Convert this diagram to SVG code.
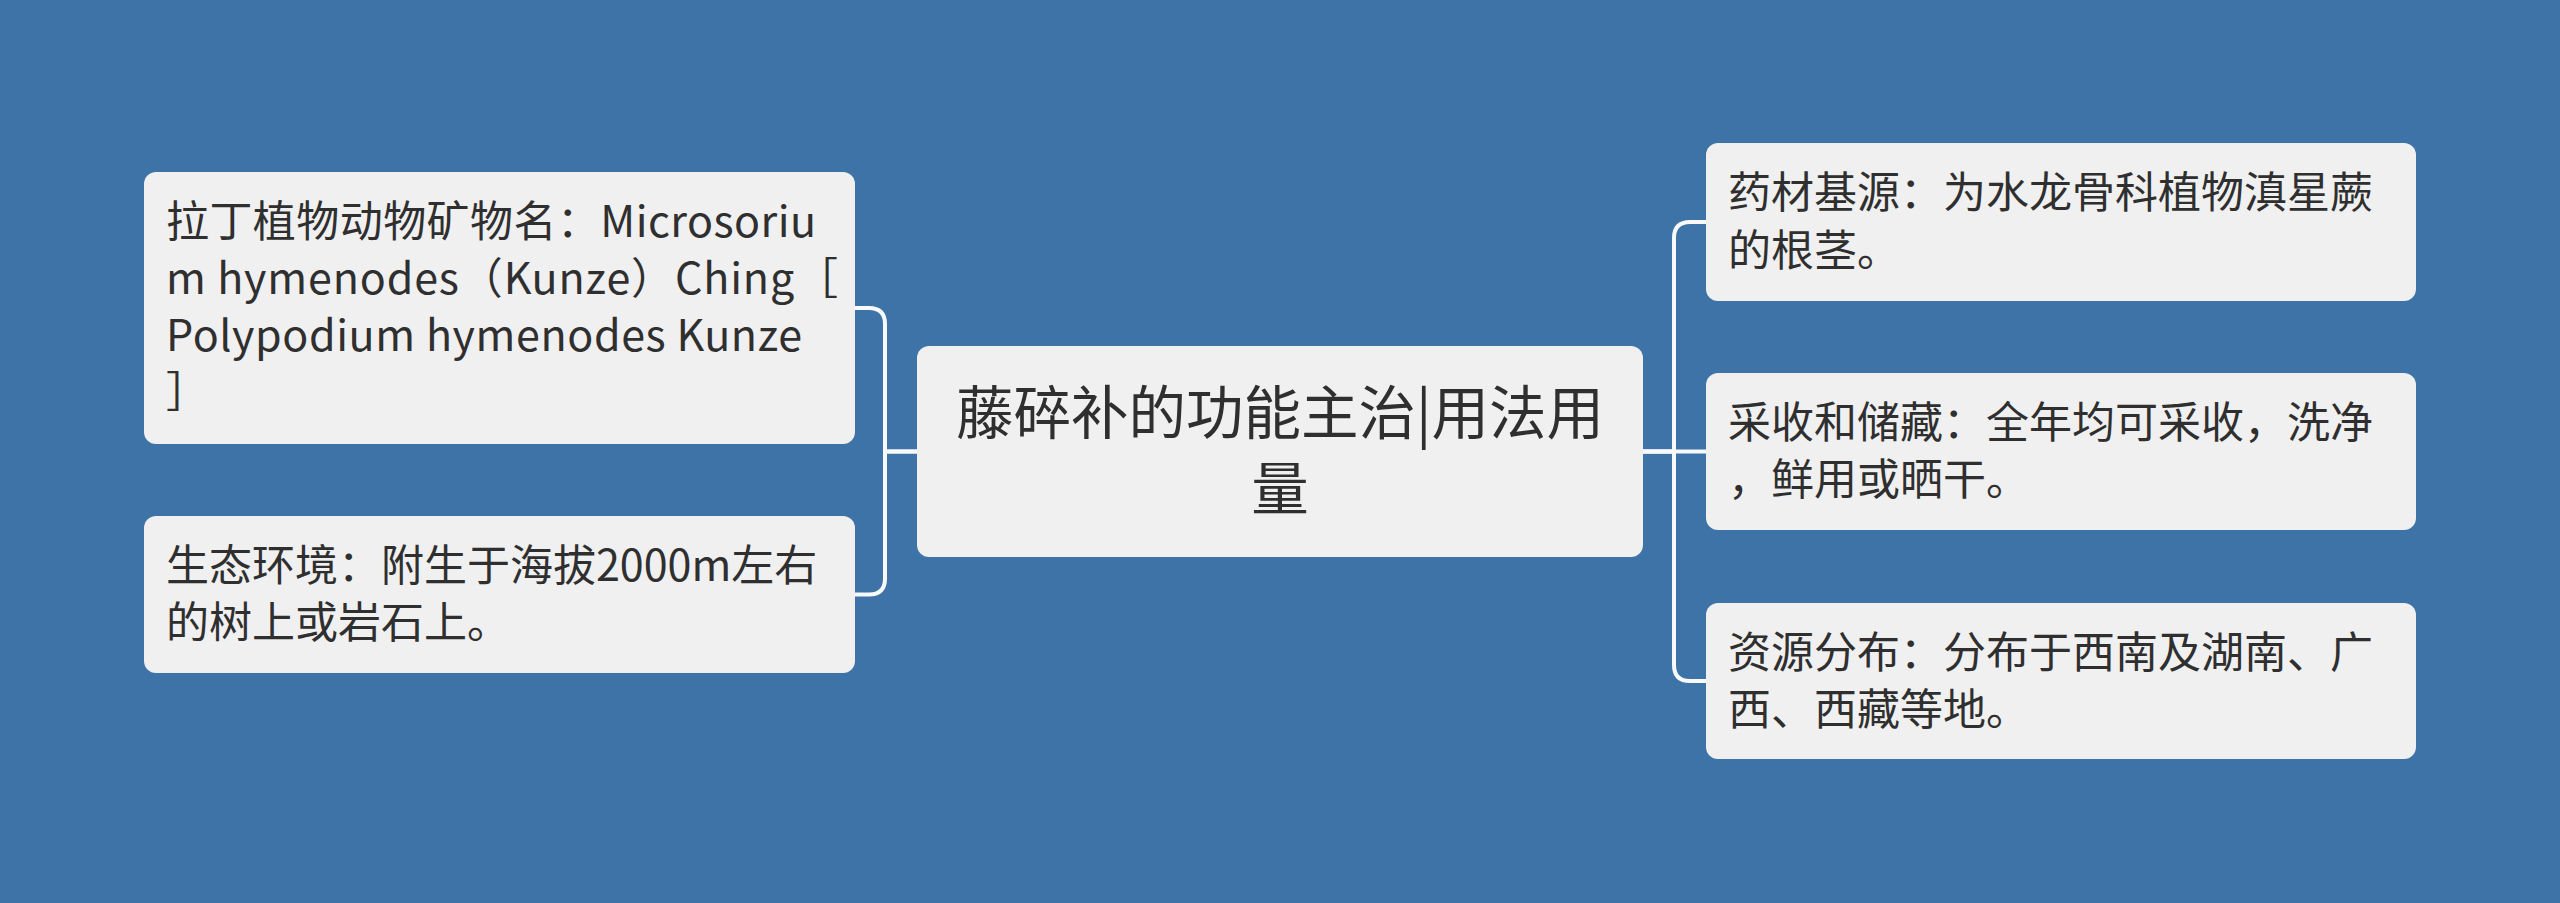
<svg xmlns="http://www.w3.org/2000/svg" width="2560" height="903" viewBox="0 0 2560 903">
<style>
.bg{fill:#3d73a6}
.box{fill:#f0f0f0}
.t{font-family:"Microsoft YaHei","Noto Sans CJK SC","Noto Sans",sans-serif;font-size:43px;fill:#2f2f2f}
.tc{font-family:"Microsoft YaHei","Noto Sans CJK SC","Noto Sans",sans-serif;font-size:57.5px;fill:#2f2f2f;text-anchor:middle}
.c{fill:none;stroke:#f7f9fb;stroke-width:4;stroke-linecap:round;stroke-linejoin:round}
</style>
<rect class="bg" x="0" y="0" width="2560" height="903"/>
<g id="connectors">
<path class="c" d="M917 451.5 H885 V324 Q885 308 869 308 H855"/>
<path class="c" d="M917 451.5 H885 V578.5 Q885 594.5 869 594.5 H855"/>
<path class="c" d="M1643 451.5 H1674 V238 Q1674 222 1690 222 H1706"/>
<path class="c" d="M1643 451.5 H1706"/>
<path class="c" d="M1643 451.5 H1674 V665 Q1674 681 1690 681 H1706"/>
</g>
<g id="center">
<rect class="box" x="917" y="346" width="726" height="211" rx="12"/>
<text class="tc" x="1280" y="434">藤碎补的功能主治|用法用</text>
<text class="tc" x="1280" y="510">量</text>
</g>
<g id="left1">
<rect class="box" x="144" y="172" width="711" height="272" rx="12"/>
<text class="t" x="166" y="237" textLength="650">拉丁植物动物矿物名：Microsoriu</text>
<text class="t" x="166" y="294" textLength="672">m hymenodes（Kunze）Ching［</text>
<text class="t" x="166" y="351" textLength="636">Polypodium hymenodes Kunze</text>
<text class="t" x="166" y="408">］</text>
</g>
<g id="left2">
<rect class="box" x="144" y="516" width="711" height="157" rx="12"/>
<text class="t" x="166" y="581">生态环境：附生于海拔2000m左右</text>
<text class="t" x="166" y="638">的树上或岩石上。</text>
</g>
<g id="right1">
<rect class="box" x="1706" y="143" width="710" height="158" rx="12"/>
<text class="t" x="1728" y="208">药材基源：为水龙骨科植物滇星蕨</text>
<text class="t" x="1728" y="266">的根茎。</text>
</g>
<g id="right2">
<rect class="box" x="1706" y="373" width="710" height="157" rx="12"/>
<text class="t" x="1728" y="438">采收和储藏：全年均可采收，洗净</text>
<text class="t" x="1728" y="495">，鲜用或晒干。</text>
</g>
<g id="right3">
<rect class="box" x="1706" y="603" width="710" height="156" rx="12"/>
<text class="t" x="1728" y="668">资源分布：分布于西南及湖南、广</text>
<text class="t" x="1728" y="725">西、西藏等地。</text>
</g>
</svg>
